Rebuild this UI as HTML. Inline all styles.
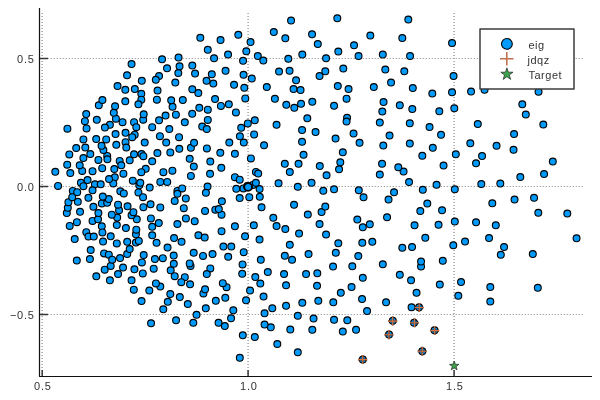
<!DOCTYPE html><html><head><meta charset="utf-8"><style>html,body{margin:0;padding:0;background:#fff;}svg{display:block;}text{font-family:"Liberation Sans",sans-serif;}</style></head><body>
<svg width="600" height="400" viewBox="0 0 600 400">
<rect width="600" height="400" fill="#fff"/>
<g stroke="#a8a8a8"><line x1="42.2" y1="13" x2="42.2" y2="376" stroke-width="1.6" stroke-dasharray="1 2"/><line x1="248.1" y1="13" x2="248.1" y2="376" stroke-width="1.6" stroke-dasharray="1 2"/><line x1="454.1" y1="13" x2="454.1" y2="376" stroke-width="1.6" stroke-dasharray="1 2"/><line x1="41.6" y1="58.5" x2="583" y2="58.5" stroke-width="1.2" stroke-dasharray="1.4 1.6"/><line x1="41.6" y1="186.5" x2="583" y2="186.5" stroke-width="1.2" stroke-dasharray="1.4 1.6"/><line x1="41.6" y1="314.5" x2="583" y2="314.5" stroke-width="1.2" stroke-dasharray="1.4 1.6"/></g>
<path d="M39.5 8 L39.5 376.5 L592 376.5" fill="none" stroke="#111" stroke-width="1.2" stroke-linejoin="round"/>
<g stroke="#383838" stroke-width="1.5"><line x1="42.2" y1="376" x2="42.2" y2="370" /><line x1="248.1" y1="376" x2="248.1" y2="370" /><line x1="454.1" y1="376" x2="454.1" y2="370" /><line x1="40" y1="58.5" x2="48" y2="58.5" /><line x1="40" y1="186.5" x2="48" y2="186.5" /><line x1="40" y1="314.5" x2="48" y2="314.5" /></g>
<g font-size="11" fill="#333" letter-spacing="0.8" style="filter:grayscale(1)"><text x="42.9" y="390" text-anchor="middle">0.5</text><text x="248.9" y="390" text-anchor="middle">1.0</text><text x="454.9" y="390" text-anchor="middle">1.5</text><text x="34.8" y="63" text-anchor="end">0.5</text><text x="34.8" y="191" text-anchor="end">0.0</text><text x="34.8" y="319" text-anchor="end">−0.5</text></g>
<g fill="#009afa" stroke="#000" stroke-width="1.1"><circle cx="185.90" cy="218.40" r="3.45"/><circle cx="253.80" cy="225.30" r="3.45"/><circle cx="190.90" cy="147.80" r="3.45"/><circle cx="399.80" cy="274.80" r="3.45"/><circle cx="184.80" cy="277.20" r="3.45"/><circle cx="184.80" cy="122.30" r="3.45"/><circle cx="116.30" cy="144.80" r="3.45"/><circle cx="114.80" cy="177.30" r="3.45"/><circle cx="114.30" cy="169.05" r="3.45"/><circle cx="113.30" cy="183.40" r="3.45"/><circle cx="274.90" cy="98.80" r="3.45"/><circle cx="346.55" cy="98.70" r="3.45"/><circle cx="242.80" cy="335.30" r="3.45"/><circle cx="496.55" cy="145.80" r="3.45"/><circle cx="246.30" cy="51.30" r="3.45"/><circle cx="465.05" cy="241.55" r="3.45"/><circle cx="254.80" cy="337.05" r="3.45"/><circle cx="470.30" cy="143.30" r="3.45"/><circle cx="338.30" cy="243.30" r="3.45"/><circle cx="489.05" cy="238.05" r="3.45"/><circle cx="302.05" cy="141.80" r="3.45"/><circle cx="389.05" cy="334.55" r="3.45"/><circle cx="453.30" cy="245.30" r="3.45"/><circle cx="257.80" cy="56.05" r="3.45"/><circle cx="410.05" cy="56.05" r="3.45"/><circle cx="335.55" cy="138.55" r="3.45"/><circle cx="342.80" cy="152.30" r="3.45"/><circle cx="382.80" cy="54.55" r="3.45"/><circle cx="335.80" cy="252.80" r="3.45"/><circle cx="414.05" cy="322.80" r="3.45"/><circle cx="270.80" cy="327.30" r="3.45"/><circle cx="250.55" cy="42.05" r="3.45"/><circle cx="288.30" cy="58.80" r="3.45"/><circle cx="308.55" cy="254.05" r="3.45"/><circle cx="504.05" cy="247.05" r="3.45"/><circle cx="277.30" cy="344.05" r="3.45"/><circle cx="455.80" cy="154.30" r="3.45"/><circle cx="359.55" cy="142.80" r="3.45"/><circle cx="224.80" cy="326.05" r="3.45"/><circle cx="434.55" cy="330.30" r="3.45"/><circle cx="303.55" cy="154.80" r="3.45"/><circle cx="392.80" cy="320.80" r="3.45"/><circle cx="290.30" cy="329.55" r="3.45"/><circle cx="263.30" cy="60.55" r="3.45"/><circle cx="243.05" cy="60.80" r="3.45"/><circle cx="441.05" cy="134.80" r="3.45"/><circle cx="289.80" cy="244.80" r="3.45"/><circle cx="482.05" cy="156.05" r="3.45"/><circle cx="326.05" cy="234.55" r="3.45"/><circle cx="358.30" cy="256.05" r="3.45"/><circle cx="264.55" cy="324.55" r="3.45"/><circle cx="452.05" cy="43.05" r="3.45"/><circle cx="353.55" cy="133.55" r="3.45"/><circle cx="299.05" cy="233.55" r="3.45"/><circle cx="285.30" cy="38.30" r="3.45"/><circle cx="302.30" cy="54.55" r="3.45"/><circle cx="362.30" cy="242.80" r="3.45"/><circle cx="228.05" cy="54.55" r="3.45"/><circle cx="402.30" cy="38.05" r="3.45"/><circle cx="218.55" cy="322.80" r="3.45"/><circle cx="315.55" cy="132.05" r="3.45"/><circle cx="513.55" cy="149.80" r="3.45"/><circle cx="131.55" cy="64.05" r="3.45"/><circle cx="514.05" cy="134.05" r="3.45"/><circle cx="292.05" cy="259.80" r="3.45"/><circle cx="500.80" cy="254.80" r="3.45"/><circle cx="495.80" cy="225.30" r="3.45"/><circle cx="302.05" cy="130.05" r="3.45"/><circle cx="238.30" cy="34.80" r="3.45"/><circle cx="284.80" cy="255.80" r="3.45"/><circle cx="438.55" cy="224.80" r="3.45"/><circle cx="552.80" cy="161.55" r="3.45"/><circle cx="285.30" cy="229.05" r="3.45"/><circle cx="340.30" cy="162.30" r="3.45"/><circle cx="567.30" cy="213.55" r="3.45"/><circle cx="151.05" cy="323.30" r="3.45"/><circle cx="231.05" cy="318.30" r="3.45"/><circle cx="432.80" cy="147.80" r="3.45"/><circle cx="297.80" cy="352.30" r="3.45"/><circle cx="476.05" cy="163.30" r="3.45"/><circle cx="362.80" cy="227.30" r="3.45"/><circle cx="476.05" cy="222.30" r="3.45"/><circle cx="273.80" cy="32.05" r="3.45"/><circle cx="284.80" cy="163.80" r="3.45"/><circle cx="298.55" cy="163.80" r="3.45"/><circle cx="454.80" cy="221.55" r="3.45"/><circle cx="490.30" cy="301.55" r="3.45"/><circle cx="385.30" cy="69.55" r="3.45"/><circle cx="367.05" cy="311.05" r="3.45"/><circle cx="356.05" cy="329.80" r="3.45"/><circle cx="297.80" cy="315.80" r="3.45"/><circle cx="220.55" cy="40.05" r="3.45"/><circle cx="370.30" cy="35.55" r="3.45"/><circle cx="425.30" cy="237.80" r="3.45"/><circle cx="443.55" cy="165.55" r="3.45"/><circle cx="225.55" cy="70.80" r="3.45"/><circle cx="289.55" cy="70.80" r="3.45"/><circle cx="442.80" cy="260.80" r="3.45"/><circle cx="319.80" cy="166.05" r="3.45"/><circle cx="429.55" cy="127.05" r="3.45"/><circle cx="404.30" cy="71.30" r="3.45"/><circle cx="369.80" cy="224.30" r="3.45"/><circle cx="352.30" cy="266.30" r="3.45"/><circle cx="422.30" cy="351.30" r="3.45"/><circle cx="279.05" cy="71.55" r="3.45"/><circle cx="477.80" cy="124.05" r="3.45"/><circle cx="319.55" cy="224.05" r="3.45"/><circle cx="333.05" cy="266.55" r="3.45"/><circle cx="162.05" cy="59.30" r="3.45"/><circle cx="312.05" cy="34.30" r="3.45"/><circle cx="372.30" cy="241.80" r="3.45"/><circle cx="264.55" cy="313.30" r="3.45"/><circle cx="239.80" cy="357.80" r="3.45"/><circle cx="411.55" cy="307.30" r="3.45"/><circle cx="419.05" cy="307.30" r="3.45"/><circle cx="276.55" cy="124.80" r="3.45"/><circle cx="276.55" cy="226.05" r="3.45"/><circle cx="339.05" cy="169.30" r="3.45"/><circle cx="243.55" cy="74.80" r="3.45"/><circle cx="127.05" cy="75.30" r="3.45"/><circle cx="159.05" cy="120.30" r="3.45"/><circle cx="233.30" cy="310.30" r="3.45"/><circle cx="207.80" cy="119.90" r="3.45"/><circle cx="143.20" cy="119.70" r="3.45"/><circle cx="82.20" cy="170.90" r="3.45"/><circle cx="159.05" cy="76.05" r="3.45"/><circle cx="453.55" cy="76.05" r="3.45"/><circle cx="357.30" cy="219.55" r="3.45"/><circle cx="84.90" cy="121.20" r="3.45"/><circle cx="136.80" cy="219.30" r="3.45"/><circle cx="134.40" cy="269.30" r="3.45"/><circle cx="214.05" cy="58.30" r="3.45"/><circle cx="421.05" cy="266.55" r="3.45"/><circle cx="576.55" cy="238.30" r="3.45"/><circle cx="145.70" cy="168.80" r="3.45"/><circle cx="153.70" cy="268.70" r="3.45"/><circle cx="167.05" cy="68.30" r="3.45"/><circle cx="289.80" cy="172.05" r="3.45"/><circle cx="210.30" cy="268.40" r="3.45"/><circle cx="134.05" cy="122.20" r="3.45"/><circle cx="141.30" cy="172.20" r="3.45"/><circle cx="76.90" cy="222.20" r="3.45"/><circle cx="150.90" cy="218.40" r="3.45"/><circle cx="307.30" cy="118.30" r="3.45"/><circle cx="205.80" cy="308.30" r="3.45"/><circle cx="272.30" cy="308.30" r="3.45"/><circle cx="92.55" cy="171.20" r="3.45"/><circle cx="92.55" cy="220.90" r="3.45"/><circle cx="317.80" cy="44.05" r="3.45"/><circle cx="347.05" cy="117.80" r="3.45"/><circle cx="221.30" cy="167.80" r="3.45"/><circle cx="273.30" cy="217.80" r="3.45"/><circle cx="70.30" cy="173.05" r="3.45"/><circle cx="158.80" cy="223.05" r="3.45"/><circle cx="422.30" cy="155.80" r="3.45"/><circle cx="317.30" cy="273.30" r="3.45"/><circle cx="386.05" cy="302.30" r="3.45"/><circle cx="347.30" cy="320.30" r="3.45"/><circle cx="163.40" cy="172.20" r="3.45"/><circle cx="142.80" cy="273.40" r="3.45"/><circle cx="251.80" cy="78.55" r="3.45"/><circle cx="211.80" cy="74.30" r="3.45"/><circle cx="210.05" cy="173.80" r="3.45"/><circle cx="284.05" cy="274.05" r="3.45"/><circle cx="306.05" cy="274.05" r="3.45"/><circle cx="206.80" cy="274.05" r="3.45"/><circle cx="319.55" cy="76.05" r="3.45"/><circle cx="420.30" cy="211.05" r="3.45"/><circle cx="362.80" cy="359.55" r="3.45"/><circle cx="155.80" cy="79.80" r="3.45"/><circle cx="379.80" cy="122.55" r="3.45"/><circle cx="379.80" cy="174.55" r="3.45"/><circle cx="286.05" cy="305.80" r="3.45"/><circle cx="291.05" cy="20.55" r="3.45"/><circle cx="296.05" cy="80.30" r="3.45"/><circle cx="326.55" cy="175.30" r="3.45"/><circle cx="79.70" cy="165.30" r="3.45"/><circle cx="131.55" cy="215.30" r="3.45"/><circle cx="442.05" cy="210.30" r="3.45"/><circle cx="165.55" cy="115.55" r="3.45"/><circle cx="141.80" cy="80.80" r="3.45"/><circle cx="67.20" cy="164.70" r="3.45"/><circle cx="69.70" cy="225.90" r="3.45"/><circle cx="221.55" cy="214.70" r="3.45"/><circle cx="408.30" cy="19.55" r="3.45"/><circle cx="525.80" cy="114.55" r="3.45"/><circle cx="307.80" cy="214.55" r="3.45"/><circle cx="414.55" cy="225.30" r="3.45"/><circle cx="143.70" cy="114.30" r="3.45"/><circle cx="234.90" cy="226.30" r="3.45"/><circle cx="96.30" cy="276.30" r="3.45"/><circle cx="163.30" cy="309.30" r="3.45"/><circle cx="86.20" cy="114.05" r="3.45"/><circle cx="202.20" cy="126.55" r="3.45"/><circle cx="362.05" cy="299.05" r="3.45"/><circle cx="96.80" cy="119.80" r="3.45"/><circle cx="152.20" cy="226.80" r="3.45"/><circle cx="358.55" cy="56.05" r="3.45"/><circle cx="382.05" cy="163.80" r="3.45"/><circle cx="520.30" cy="177.05" r="3.45"/><circle cx="136.30" cy="127.20" r="3.45"/><circle cx="152.20" cy="127.20" r="3.45"/><circle cx="234.90" cy="177.20" r="3.45"/><circle cx="312.30" cy="329.80" r="3.45"/><circle cx="391.05" cy="82.55" r="3.45"/><circle cx="66.80" cy="213.05" r="3.45"/><circle cx="207.80" cy="49.80" r="3.45"/><circle cx="382.80" cy="264.30" r="3.45"/><circle cx="267.80" cy="272.05" r="3.45"/><circle cx="362.80" cy="277.80" r="3.45"/><circle cx="302.30" cy="302.80" r="3.45"/><circle cx="342.80" cy="331.55" r="3.45"/><circle cx="98.05" cy="219.30" r="3.45"/><circle cx="141.90" cy="262.40" r="3.45"/><circle cx="235.90" cy="112.40" r="3.45"/><circle cx="383.30" cy="145.55" r="3.45"/><circle cx="86.55" cy="128.40" r="3.45"/><circle cx="98.40" cy="213.05" r="3.45"/><circle cx="133.40" cy="212.20" r="3.45"/><circle cx="213.30" cy="83.55" r="3.45"/><circle cx="321.55" cy="212.05" r="3.45"/><circle cx="412.05" cy="247.05" r="3.45"/><circle cx="313.55" cy="318.55" r="3.45"/><circle cx="67.40" cy="128.70" r="3.45"/><circle cx="80.05" cy="211.80" r="3.45"/><circle cx="206.55" cy="80.80" r="3.45"/><circle cx="206.80" cy="129.05" r="3.45"/><circle cx="382.30" cy="111.55" r="3.45"/><circle cx="210.30" cy="161.55" r="3.45"/><circle cx="196.55" cy="314.80" r="3.45"/><circle cx="169.30" cy="129.05" r="3.45"/><circle cx="439.30" cy="111.30" r="3.45"/><circle cx="152.20" cy="161.30" r="3.45"/><circle cx="239.70" cy="179.70" r="3.45"/><circle cx="125.90" cy="228.05" r="3.45"/><circle cx="205.05" cy="210.90" r="3.45"/><circle cx="234.05" cy="84.80" r="3.45"/><circle cx="215.80" cy="300.80" r="3.45"/><circle cx="458.30" cy="295.80" r="3.45"/><circle cx="252.80" cy="185.00" r="3.45"/><circle cx="87.55" cy="180.05" r="3.45"/><circle cx="76.80" cy="260.55" r="3.45"/><circle cx="175.30" cy="82.55" r="3.45"/><circle cx="325.30" cy="71.30" r="3.45"/><circle cx="55.30" cy="171.80" r="3.45"/><circle cx="129.70" cy="160.30" r="3.45"/><circle cx="131.55" cy="280.30" r="3.45"/><circle cx="246.05" cy="300.30" r="3.45"/><circle cx="254.80" cy="120.30" r="3.45"/><circle cx="98.40" cy="159.90" r="3.45"/><circle cx="132.80" cy="180.70" r="3.45"/><circle cx="170.70" cy="270.30" r="3.45"/><circle cx="207.80" cy="109.70" r="3.45"/><circle cx="215.30" cy="209.70" r="3.45"/><circle cx="194.70" cy="221.20" r="3.45"/><circle cx="117.55" cy="86.05" r="3.45"/><circle cx="326.05" cy="58.30" r="3.45"/><circle cx="176.05" cy="320.30" r="3.45"/><circle cx="241.20" cy="127.80" r="3.45"/><circle cx="221.55" cy="231.20" r="3.45"/><circle cx="354.05" cy="45.30" r="3.45"/><circle cx="264.05" cy="145.30" r="3.45"/><circle cx="218.80" cy="209.05" r="3.45"/><circle cx="89.90" cy="259.05" r="3.45"/><circle cx="154.90" cy="259.05" r="3.45"/><circle cx="193.80" cy="166.55" r="3.45"/><circle cx="101.80" cy="226.30" r="3.45"/><circle cx="160.30" cy="181.90" r="3.45"/><circle cx="167.20" cy="181.90" r="3.45"/><circle cx="266.80" cy="87.05" r="3.45"/><circle cx="373.80" cy="87.05" r="3.45"/><circle cx="387.05" cy="217.30" r="3.45"/><circle cx="427.30" cy="203.55" r="3.45"/><circle cx="102.20" cy="168.20" r="3.45"/><circle cx="123.40" cy="173.70" r="3.45"/><circle cx="86.30" cy="232.20" r="3.45"/><circle cx="242.20" cy="273.80" r="3.45"/><circle cx="454.30" cy="108.30" r="3.45"/><circle cx="492.30" cy="203.30" r="3.45"/><circle cx="193.30" cy="322.80" r="3.45"/><circle cx="172.40" cy="170.70" r="3.45"/><circle cx="102.40" cy="232.40" r="3.45"/><circle cx="162.80" cy="258.20" r="3.45"/><circle cx="83.40" cy="158.05" r="3.45"/><circle cx="123.05" cy="267.55" r="3.45"/><circle cx="242.55" cy="264.40" r="3.45"/><circle cx="244.30" cy="87.80" r="3.45"/><circle cx="125.55" cy="132.80" r="3.45"/><circle cx="199.30" cy="107.80" r="3.45"/><circle cx="294.30" cy="107.80" r="3.45"/><circle cx="311.55" cy="182.80" r="3.45"/><circle cx="80.90" cy="182.80" r="3.45"/><circle cx="67.80" cy="207.80" r="3.45"/><circle cx="532.80" cy="254.05" r="3.45"/><circle cx="225.30" cy="297.80" r="3.45"/><circle cx="416.55" cy="292.80" r="3.45"/><circle cx="412.80" cy="88.05" r="3.45"/><circle cx="122.55" cy="122.20" r="3.45"/><circle cx="160.30" cy="207.40" r="3.45"/><circle cx="178.30" cy="73.05" r="3.45"/><circle cx="278.55" cy="183.30" r="3.45"/><circle cx="412.30" cy="109.05" r="3.45"/><circle cx="318.30" cy="300.80" r="3.45"/><circle cx="192.20" cy="113.80" r="3.45"/><circle cx="143.40" cy="207.20" r="3.45"/><circle cx="178.55" cy="57.55" r="3.45"/><circle cx="500.30" cy="183.55" r="3.45"/><circle cx="172.55" cy="106.80" r="3.45"/><circle cx="93.40" cy="206.80" r="3.45"/><circle cx="173.80" cy="263.80" r="3.45"/><circle cx="228.20" cy="256.80" r="3.45"/><circle cx="167.80" cy="301.80" r="3.45"/><circle cx="134.80" cy="89.05" r="3.45"/><circle cx="293.55" cy="89.05" r="3.45"/><circle cx="481.30" cy="184.05" r="3.45"/><circle cx="261.55" cy="207.30" r="3.45"/><circle cx="325.30" cy="206.55" r="3.45"/><circle cx="263.55" cy="296.55" r="3.45"/><circle cx="259.60" cy="189.10" r="3.45"/><circle cx="94.90" cy="184.30" r="3.45"/><circle cx="100.70" cy="184.30" r="3.45"/><circle cx="127.55" cy="206.30" r="3.45"/><circle cx="135.90" cy="234.30" r="3.45"/><circle cx="179.55" cy="66.30" r="3.45"/><circle cx="389.55" cy="135.55" r="3.45"/><circle cx="141.55" cy="301.05" r="3.45"/><circle cx="134.70" cy="134.70" r="3.45"/><circle cx="220.90" cy="105.90" r="3.45"/><circle cx="190.90" cy="175.90" r="3.45"/><circle cx="104.70" cy="269.70" r="3.45"/><circle cx="174.70" cy="276.20" r="3.45"/><circle cx="203.05" cy="255.90" r="3.45"/><circle cx="125.30" cy="89.80" r="3.45"/><circle cx="334.05" cy="105.80" r="3.45"/><circle cx="436.55" cy="184.80" r="3.45"/><circle cx="260.80" cy="259.80" r="3.45"/><circle cx="300.55" cy="90.05" r="3.45"/><circle cx="173.70" cy="255.55" r="3.45"/><circle cx="190.55" cy="265.90" r="3.45"/><circle cx="200.30" cy="37.80" r="3.45"/><circle cx="98.80" cy="105.30" r="3.45"/><circle cx="139.30" cy="185.30" r="3.45"/><circle cx="152.20" cy="235.30" r="3.45"/><circle cx="198.40" cy="235.30" r="3.45"/><circle cx="260.30" cy="283.55" r="3.45"/><circle cx="286.05" cy="285.30" r="3.45"/><circle cx="411.05" cy="280.30" r="3.45"/><circle cx="157.55" cy="90.55" r="3.45"/><circle cx="120.05" cy="258.05" r="3.45"/><circle cx="143.70" cy="255.05" r="3.45"/><circle cx="190.05" cy="284.30" r="3.45"/><circle cx="286.30" cy="104.80" r="3.45"/><circle cx="409.80" cy="123.30" r="3.45"/><circle cx="409.80" cy="143.55" r="3.45"/><circle cx="294.05" cy="204.80" r="3.45"/><circle cx="317.05" cy="285.80" r="3.45"/><circle cx="175.90" cy="114.70" r="3.45"/><circle cx="58.05" cy="185.90" r="3.45"/><circle cx="119.70" cy="160.90" r="3.45"/><circle cx="189.70" cy="158.80" r="3.45"/><circle cx="189.70" cy="263.40" r="3.45"/><circle cx="259.55" cy="239.55" r="3.45"/><circle cx="514.55" cy="199.55" r="3.45"/><circle cx="159.90" cy="136.20" r="3.45"/><circle cx="69.30" cy="154.40" r="3.45"/><circle cx="83.40" cy="186.20" r="3.45"/><circle cx="228.80" cy="104.30" r="3.45"/><circle cx="239.90" cy="136.30" r="3.45"/><circle cx="522.30" cy="104.30" r="3.45"/><circle cx="134.05" cy="154.30" r="3.45"/><circle cx="150.55" cy="204.30" r="3.45"/><circle cx="245.05" cy="236.30" r="3.45"/><circle cx="471.05" cy="91.55" r="3.45"/><circle cx="409.05" cy="182.05" r="3.45"/><circle cx="90.30" cy="154.05" r="3.45"/><circle cx="141.55" cy="154.05" r="3.45"/><circle cx="207.55" cy="186.55" r="3.45"/><circle cx="88.40" cy="236.55" r="3.45"/><circle cx="93.80" cy="236.55" r="3.45"/><circle cx="119.05" cy="210.30" r="3.45"/><circle cx="127.20" cy="254.05" r="3.45"/><circle cx="160.30" cy="286.55" r="3.45"/><circle cx="212.55" cy="254.05" r="3.45"/><circle cx="334.05" cy="319.80" r="3.45"/><circle cx="301.05" cy="103.80" r="3.45"/><circle cx="297.80" cy="186.80" r="3.45"/><circle cx="234.90" cy="153.80" r="3.45"/><circle cx="348.55" cy="89.05" r="3.45"/><circle cx="351.55" cy="287.05" r="3.45"/><circle cx="461.05" cy="282.05" r="3.45"/><circle cx="226.55" cy="287.20" r="3.45"/><circle cx="132.20" cy="137.20" r="3.45"/><circle cx="107.20" cy="155.90" r="3.45"/><circle cx="101.80" cy="203.40" r="3.45"/><circle cx="104.05" cy="253.40" r="3.45"/><circle cx="452.05" cy="92.30" r="3.45"/><circle cx="333.30" cy="302.30" r="3.45"/><circle cx="107.40" cy="159.30" r="3.45"/><circle cx="177.40" cy="224.05" r="3.45"/><circle cx="157.40" cy="153.05" r="3.45"/><circle cx="149.70" cy="187.55" r="3.45"/><circle cx="118.05" cy="204.70" r="3.45"/><circle cx="204.70" cy="237.55" r="3.45"/><circle cx="118.05" cy="274.05" r="3.45"/><circle cx="247.80" cy="123.40" r="3.45"/><circle cx="220.30" cy="152.80" r="3.45"/><circle cx="107.20" cy="202.80" r="3.45"/><circle cx="534.05" cy="197.80" r="3.45"/><circle cx="193.70" cy="252.80" r="3.45"/><circle cx="198.30" cy="93.05" r="3.45"/><circle cx="174.05" cy="238.05" r="3.45"/><circle cx="170.30" cy="152.40" r="3.45"/><circle cx="543.30" cy="124.55" r="3.45"/><circle cx="538.30" cy="212.80" r="3.45"/><circle cx="402.30" cy="247.80" r="3.45"/><circle cx="243.40" cy="188.40" r="3.45"/><circle cx="68.40" cy="202.20" r="3.45"/><circle cx="117.20" cy="217.55" r="3.45"/><circle cx="243.70" cy="252.20" r="3.45"/><circle cx="432.30" cy="93.55" r="3.45"/><circle cx="383.55" cy="102.05" r="3.45"/><circle cx="179.80" cy="297.05" r="3.45"/><circle cx="255.90" cy="171.90" r="3.45"/><circle cx="141.30" cy="93.80" r="3.45"/><circle cx="312.30" cy="101.80" r="3.45"/><circle cx="236.30" cy="188.80" r="3.45"/><circle cx="77.80" cy="201.80" r="3.45"/><circle cx="116.80" cy="225.05" r="3.45"/><circle cx="108.80" cy="254.70" r="3.45"/><circle cx="96.20" cy="139.05" r="3.45"/><circle cx="179.05" cy="137.20" r="3.45"/><circle cx="544.05" cy="174.05" r="3.45"/><circle cx="109.05" cy="179.05" r="3.45"/><circle cx="74.70" cy="239.05" r="3.45"/><circle cx="125.30" cy="101.30" r="3.45"/><circle cx="334.05" cy="189.30" r="3.45"/><circle cx="454.80" cy="189.30" r="3.45"/><circle cx="221.90" cy="201.30" r="3.45"/><circle cx="83.40" cy="139.40" r="3.45"/><circle cx="106.20" cy="139.40" r="3.45"/><circle cx="484.55" cy="89.80" r="3.45"/><circle cx="439.80" cy="284.55" r="3.45"/><circle cx="133.80" cy="289.70" r="3.45"/><circle cx="115.90" cy="118.70" r="3.45"/><circle cx="174.70" cy="200.90" r="3.45"/><circle cx="422.80" cy="189.80" r="3.45"/><circle cx="109.90" cy="124.80" r="3.45"/><circle cx="109.90" cy="280.30" r="3.45"/><circle cx="115.55" cy="134.05" r="3.45"/><circle cx="171.20" cy="100.30" r="3.45"/><circle cx="358.80" cy="190.30" r="3.45"/><circle cx="92.55" cy="190.30" r="3.45"/><circle cx="255.30" cy="277.05" r="3.45"/><circle cx="195.05" cy="73.55" r="3.45"/><circle cx="102.40" cy="100.05" r="3.45"/><circle cx="115.05" cy="106.30" r="3.45"/><circle cx="103.40" cy="150.05" r="3.45"/><circle cx="90.70" cy="250.05" r="3.45"/><circle cx="149.30" cy="290.55" r="3.45"/><circle cx="250.05" cy="290.55" r="3.45"/><circle cx="110.70" cy="236.30" r="3.45"/><circle cx="110.70" cy="265.90" r="3.45"/><circle cx="323.30" cy="190.80" r="3.45"/><circle cx="141.30" cy="99.70" r="3.45"/><circle cx="156.90" cy="99.70" r="3.45"/><circle cx="72.80" cy="190.90" r="3.45"/><circle cx="177.40" cy="190.90" r="3.45"/><circle cx="250.90" cy="158.40" r="3.45"/><circle cx="388.55" cy="199.55" r="3.45"/><circle cx="120.30" cy="191.30" r="3.45"/><circle cx="181.30" cy="282.20" r="3.45"/><circle cx="215.05" cy="99.05" r="3.45"/><circle cx="108.80" cy="199.05" r="3.45"/><circle cx="103.05" cy="241.55" r="3.45"/><circle cx="129.70" cy="249.05" r="3.45"/><circle cx="113.80" cy="112.80" r="3.45"/><circle cx="179.30" cy="148.80" r="3.45"/><circle cx="259.80" cy="196.80" r="3.45"/><circle cx="111.80" cy="214.70" r="3.45"/><circle cx="181.55" cy="241.80" r="3.45"/><circle cx="127.20" cy="241.80" r="3.45"/><circle cx="403.55" cy="171.55" r="3.45"/><circle cx="490.30" cy="287.05" r="3.45"/><circle cx="125.55" cy="142.20" r="3.45"/><circle cx="245.30" cy="98.40" r="3.45"/><circle cx="77.20" cy="192.20" r="3.45"/><circle cx="182.20" cy="188.40" r="3.45"/><circle cx="206.90" cy="148.40" r="3.45"/><circle cx="249.30" cy="197.20" r="3.45"/><circle cx="112.20" cy="259.70" r="3.45"/><circle cx="337.30" cy="18.30" r="3.45"/><circle cx="343.30" cy="68.55" r="3.45"/><circle cx="394.05" cy="192.30" r="3.45"/><circle cx="138.40" cy="192.40" r="3.45"/><circle cx="144.70" cy="142.55" r="3.45"/><circle cx="166.20" cy="142.55" r="3.45"/><circle cx="229.30" cy="142.55" r="3.45"/><circle cx="243.80" cy="142.55" r="3.45"/><circle cx="76.20" cy="148.05" r="3.45"/><circle cx="135.90" cy="242.55" r="3.45"/><circle cx="337.80" cy="86.05" r="3.45"/><circle cx="182.80" cy="100.05" r="3.45"/><circle cx="194.05" cy="142.80" r="3.45"/><circle cx="205.90" cy="192.80" r="3.45"/><circle cx="88.40" cy="197.80" r="3.45"/><circle cx="156.55" cy="242.80" r="3.45"/><circle cx="340.80" cy="292.80" r="3.45"/><circle cx="537.80" cy="287.80" r="3.45"/><circle cx="187.80" cy="304.05" r="3.45"/><circle cx="85.30" cy="147.55" r="3.45"/><circle cx="126.30" cy="147.55" r="3.45"/><circle cx="167.55" cy="247.55" r="3.45"/><circle cx="239.70" cy="198.10" r="3.45"/><circle cx="338.30" cy="51.55" r="3.45"/><circle cx="192.30" cy="65.55" r="3.45"/><circle cx="192.30" cy="89.30" r="3.45"/><circle cx="398.30" cy="167.30" r="3.45"/><circle cx="363.55" cy="197.30" r="3.45"/><circle cx="123.80" cy="193.40" r="3.45"/><circle cx="72.20" cy="197.20" r="3.45"/><circle cx="143.05" cy="197.20" r="3.45"/><circle cx="116.80" cy="243.40" r="3.45"/><circle cx="203.40" cy="293.40" r="3.45"/><circle cx="183.80" cy="208.20" r="3.45"/><circle cx="102.80" cy="196.55" r="3.45"/><circle cx="170.30" cy="294.05" r="3.45"/><circle cx="223.40" cy="246.55" r="3.45"/><circle cx="231.30" cy="246.55" r="3.45"/><circle cx="254.10" cy="134.50" r="3.45"/><circle cx="101.55" cy="145.80" r="3.45"/><circle cx="399.80" cy="105.30" r="3.45"/><circle cx="185.80" cy="198.40" r="3.45"/><circle cx="177.40" cy="193.80" r="3.45"/><circle cx="538.55" cy="91.80" r="3.45"/><circle cx="346.55" cy="121.55" r="3.45"/><circle cx="421.05" cy="261.55" r="3.45"/><circle cx="255.90" cy="182.80" r="3.45"/><circle cx="136.30" cy="229.70" r="3.45"/><circle cx="140.30" cy="182.80" r="3.45"/><circle cx="222.80" cy="283.20" r="3.45"/><circle cx="155.90" cy="283.40" r="3.45"/><circle cx="121.30" cy="165.30" r="3.45"/><circle cx="143.40" cy="156.20" r="3.45"/><circle cx="104.90" cy="127.55" r="3.45"/><circle cx="138.40" cy="104.30" r="3.45"/><circle cx="258.20" cy="173.60" r="3.45"/><circle cx="205.05" cy="289.30" r="3.45"/><circle cx="138.80" cy="240.90" r="3.45"/><circle cx="247.4" cy="186.1" r="3.5"/><circle cx="248.1" cy="186.9" r="3.95" stroke-width="1.9"/></g>
<path d="M414.7 307.5h9M419.2 303.0v9M388.2 321.1h9M392.7 316.6v9M410.0 322.8h9M414.5 318.3v9M384.4 334.8h9M388.9 330.3v9M430.2 330.6h9M434.7 326.1v9M417.7 351.3h9M422.2 346.8v9M358.2 359.6h9M362.7 355.1v9" stroke="#3a2a20" stroke-opacity="0.75" stroke-width="2.1" fill="none"/>
<path d="M414.7 307.5h9M419.2 303.0v9M388.2 321.1h9M392.7 316.6v9M410.0 322.8h9M414.5 318.3v9M384.4 334.8h9M388.9 330.3v9M430.2 330.6h9M434.7 326.1v9M417.7 351.3h9M422.2 346.8v9M358.2 359.6h9M362.7 355.1v9" stroke="#d8703f" stroke-width="1.1" fill="none"/>
<path d="M454.20 361.00 L455.38 364.28 L458.86 364.39 L456.10 366.52 L457.08 369.86 L454.20 367.90 L451.32 369.86 L452.30 366.52 L449.54 364.39 L453.02 364.28Z" fill="#3da44d" stroke="#222" stroke-width="0.7" stroke-linejoin="round"/>
<rect x="480" y="28.9" width="94" height="60" fill="#fff" stroke="#3c3c3c" stroke-width="1.5" stroke-linejoin="round"/>
<circle cx="506.9" cy="43.9" r="5.4" fill="#009afa" stroke="#000" stroke-width="1.1"/>
<path d="M500 58.8h13.5M506.8 52v13.5" stroke="#c0714f" stroke-width="1.6"/>
<path d="M506.90 67.80 L508.37 72.18 L512.99 72.22 L509.28 74.97 L510.66 79.38 L506.90 76.70 L503.14 79.38 L504.52 74.97 L500.81 72.22 L505.43 72.18Z" fill="#3da44d" stroke="#222" stroke-width="0.7" stroke-linejoin="round"/>
<g font-size="11" fill="#333" letter-spacing="0.5" style="filter:grayscale(1)"><text x="528.5" y="49">eig</text><text x="527.5" y="64">jdqz</text><text x="528.5" y="79">Target</text></g>
</svg></body></html>
